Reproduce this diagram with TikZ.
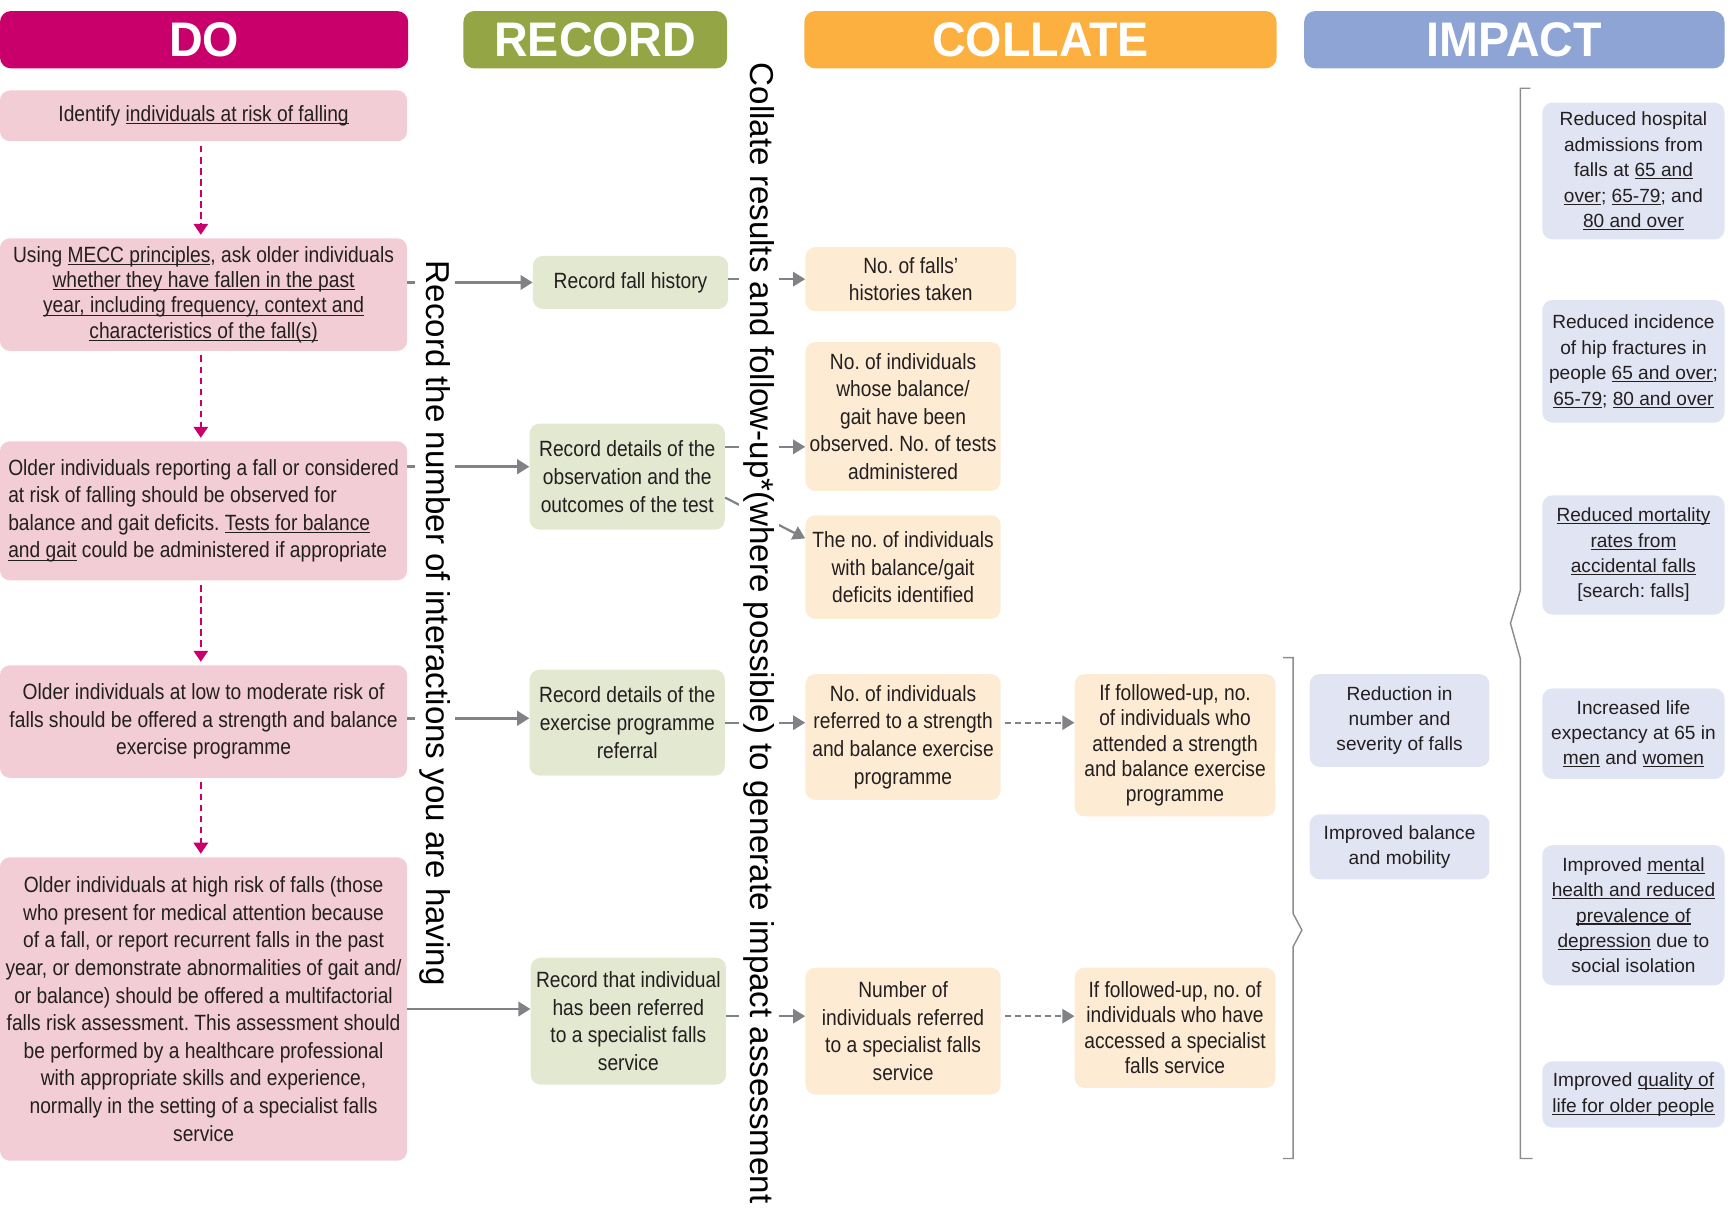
\documentclass[tikz,border=0pt]{standalone}
\usepackage{fontspec}
\setmainfont{Liberation Sans}
\newfontfamily\condfont[FakeStretch=0.87]{Liberation Sans}
\newfontfamily\headfont[FakeStretch=0.96]{Liberation Sans}
\usetikzlibrary{arrows.meta}
\frenchspacing

\definecolor{domag}{HTML}{C9006B}
\definecolor{dopink}{HTML}{F2CDD5}
\definecolor{recgreen}{HTML}{94A545}
\definecolor{recpale}{HTML}{E3E8D0}
\definecolor{colorange}{HTML}{FBB040}
\definecolor{colpale}{HTML}{FEEBD3}
\definecolor{impblue}{HTML}{8DA4D5}
\definecolor{imppale}{HTML}{E1E5F3}
\definecolor{arrowgray}{HTML}{808285}
\definecolor{brkgray}{HTML}{8C8C8C}
\definecolor{ink}{HTML}{231F20}

% underline at a fixed distance below the baseline
\newcommand\lnk[1]{\leavevmode\setbox0=\hbox{#1}\rlap{\raisebox{-0.13em}{\rule{\wd0}{0.055em}}}\box0\relax}

\begin{document}
\begin{tikzpicture}[x=1pt,y=-1pt,
  box/.style={rounded corners=9pt, inner sep=0pt, align=center, text=ink},
  dobox/.style={box, fill=dopink, minimum width=369pt, font=\condfont\fontsize{20}{25}\selectfont},
  recbox/.style={box, fill=recpale, minimum width=177pt, font=\condfont\fontsize{20}{25}\selectfont},
  colbox/.style={box, fill=colpale, font=\condfont\fontsize{20}{25}\selectfont},
  tight/.style={font=\condfont\fontsize{20}{23}\selectfont},
  impbox/.style={box, fill=imppale, font=\fontsize{17.3}{23}\selectfont},
  hdr/.style={rounded corners=10pt, inner sep=0pt, minimum height=52pt, text=white, font=\headfont\bfseries\fontsize{44}{50}\selectfont},
  vlabel/.style={rotate=-90, fill=white, inner xsep=0pt, inner ysep=4pt, text=black, font=\fontsize{30}{36}\selectfont},
  flow/.style={draw=arrowgray, line width=2.5pt, -{Triangle[length=11pt,width=13pt]}},
  link/.style={draw=arrowgray, line width=2pt, -{Triangle[length=11pt,width=13pt]}},
  follow/.style={link, dash pattern=on 5pt off 4pt, shorten <=4pt},
  stepdown/.style={draw=domag, line width=2pt, dash pattern=on 6pt off 4pt, -{Triangle[length=10pt,width=13pt]}, shorten <=4pt, shorten >=3pt},
  bracket/.style={draw=brkgray, line width=1.3pt},
]
\useasboundingbox (0,0) rectangle (1568,1096);

% column headers
\node[hdr, fill=domag, minimum width=370pt] (hdo) at (185,36) {DO};
\node[hdr, fill=recgreen, minimum width=239pt] (hrec) at (539.5,36) {RECORD};
\node[hdr, fill=colorange, minimum width=428pt] (hcol) at (943,36) {COLLATE};
\node[hdr, fill=impblue, minimum width=381pt] (himp) at (1372.5,36) {IMPACT};

% DO
\node[dobox, minimum height=46pt] (do1) at (184.5,105) {Identify \lnk{individuals at risk of falling}};
\node[dobox, tight, minimum height=102pt] (do2) at (184.5,267) {Using \lnk{MECC principles}, ask older individuals\\ \lnk{whether they have fallen in the past}\\ \lnk{year, including frequency, context and}\\ \lnk{characteristics of the fall(s)}};
\node[dobox, minimum height=126pt, align=left] (do3) at (184.5,463) {Older individuals reporting a fall or considered\\ at risk of falling should be observed for\\ balance and gait deficits. \lnk{Tests for balance}\\ \lnk{and gait} could be administered if appropriate};
\node[dobox, minimum height=102pt] (do4) at (184.5,654) {Older individuals at low to moderate risk of\\ falls should be offered a strength and balance\\ exercise programme};
\node[dobox, minimum height=275pt] (do5) at (184.5,914.5) {Older individuals at high risk of falls (those\\ who present for medical attention because\\ of a fall, or report recurrent falls in the past\\ year, or demonstrate abnormalities of gait and/\\ or balance) should be offered a multifactorial\\ falls risk assessment. This assessment should\\ be performed by a healthcare professional\\ with appropriate skills and experience,\\ normally in the setting of a specialist falls\\ service};

% RECORD
\node[recbox, minimum height=48pt] (rec1) at (571.5,256) {Record fall history};
\node[recbox, minimum height=96pt] (rec2) at (568.5,432) {Record details of the\\ observation and the\\ outcomes of the test};
\node[recbox, minimum height=96pt] (rec3) at (568.5,655) {Record details of the\\ exercise programme\\ referral};
\node[recbox, minimum height=115pt] (rec4) at (569.5,925.5) {Record that individual\\ has been referred\\ to a specialist falls\\ service};

% COLLATE
\node[colbox, minimum width=191pt, minimum height=58pt] (col1) at (825.5,253) {No. of falls’\\ histories taken};
\node[colbox, minimum width=177pt, minimum height=135pt] (col2) at (818.5,377.5) {No. of individuals\\ whose balance/\\ gait have been\\ observed. No. of tests\\ administered};
\node[colbox, minimum width=177pt, minimum height=94pt] (col3) at (818.5,514) {The no. of individuals\\ with balance/gait\\ deficits identified};
\node[colbox, minimum width=177pt, minimum height=114pt] (col4) at (818.5,668) {No. of individuals\\ referred to a strength\\ and balance exercise\\ programme};
\node[colbox, tight, minimum width=182pt, minimum height=129pt] (col5) at (1065,675.5) {If followed-up, no.\\ of individuals who\\ attended a strength\\ and balance exercise\\ programme};
\node[colbox, minimum width=177pt, minimum height=115pt] (col6) at (818.5,934.5) {Number of\\ individuals referred\\ to a specialist falls\\ service};
\node[colbox, tight, minimum width=182pt, minimum height=109pt] (col7) at (1065,931.5) {If followed-up, no. of\\ individuals who have\\ accessed a specialist\\ falls service};

% IMPACT
\node[impbox, minimum width=163pt, minimum height=84pt] (imp1) at (1268.5,653) {Reduction in\\ number and\\ severity of falls};
\node[impbox, minimum width=163pt, minimum height=59pt] (imp2) at (1268.5,767.5) {Improved balance\\ and mobility};
\node[impbox, minimum width=165pt, minimum height=124pt] (out1) at (1480.5,155) {Reduced hospital\\ admissions from\\ falls at \lnk{65 and}\\ \lnk{over}; \lnk{65-79}; and\\ \lnk{80 and over}};
\node[impbox, minimum width=165pt, minimum height=111pt] (out2) at (1480.5,327.5) {Reduced incidence\\ of hip fractures in\\ people \lnk{65 and over};\\ \lnk{65-79}; \lnk{80 and over}};
\node[impbox, minimum width=165pt, minimum height=108pt] (out3) at (1480.5,503) {\lnk{Reduced mortality}\\ \lnk{rates from}\\ \lnk{accidental falls}\\ {[search: falls]}};
\node[impbox, minimum width=165pt, minimum height=82pt] (out4) at (1480.5,665) {Increased life\\ expectancy at 65 in\\ \lnk{men} and \lnk{women}};
\node[impbox, minimum width=165pt, minimum height=127pt] (out5) at (1480.5,829.5) {Improved \lnk{mental}\\ \lnk{health and reduced}\\ \lnk{prevalence of}\\ \lnk{depression} due to\\ social isolation};
\node[impbox, minimum width=165pt, minimum height=60pt] (out6) at (1480.5,992) {Improved \lnk{quality of}\\ \lnk{life for older people}};

% heights of the connectors that do not run through box centres
\coordinate (yr3) at (0,423);
\coordinate (yr4) at (0,651);
\coordinate (yc2) at (0,405);
\coordinate (yc3a) at (0,451);
\coordinate (yc3b) at (0,488);
\coordinate (yc6) at (0,921);

% DO steps
\draw[stepdown] ([xshift=-2.5pt]do1.south) -- ([xshift=-2.5pt]do2.north);
\draw[stepdown] ([xshift=-2.5pt]do2.south) -- ([xshift=-2.5pt]do3.north);
\draw[stepdown] ([xshift=-2.5pt]do3.south) -- ([xshift=-2.5pt]do4.north);
\draw[stepdown] ([xshift=-2.5pt]do4.south) -- ([xshift=-2.5pt]do5.north);

% DO -> RECORD
\draw[flow] (do2.east |- rec1.west) -- (rec1.west);
\draw[flow] (do3.east |- yr3) -- (rec2.west |- yr3);
\draw[flow] (do4.east |- yr4) -- (rec3.west |- yr4);
\draw[flow] (do5.east) -- (rec4.west |- do5.east);

% RECORD -> COLLATE
\draw[link] (rec1.east |- col1.west) -- (col1.west);
\draw[link] (rec2.east |- yc2) -- (col2.west |- yc2);
\draw[link] (rec2.east |- yc3a) -- (col3.west |- yc3b);
\draw[link] (rec3.east) -- (col4.west |- rec3.east);
\draw[link] (rec4.east |- yc6) -- (col6.west |- yc6);
\draw[follow] (col4.east |- rec3.east) -- (col5.west |- rec3.east);
\draw[follow] (col6.east |- yc6) -- (col7.west |- yc6);

% running labels across the connectors
\node[vlabel] (vrec) at (394,565) {Record the number of interactions you are having};
\node[vlabel] (vcol) at (688,574) {Collate results and follow-up*(where possible) to generate impact assessment};

% braces grouping the impacts
\draw[bracket] (1163,596) -- (1172,596) -- (1172,828) -- (1180,843) -- (1172,858) -- (1172,1050) -- (1163,1050);
\draw[bracket] (1387,80) -- (1378,80) -- (1378,535) -- (1369,565) -- (1378,597) -- (1378,1050) -- (1389,1050);
\end{tikzpicture}
\end{document}
